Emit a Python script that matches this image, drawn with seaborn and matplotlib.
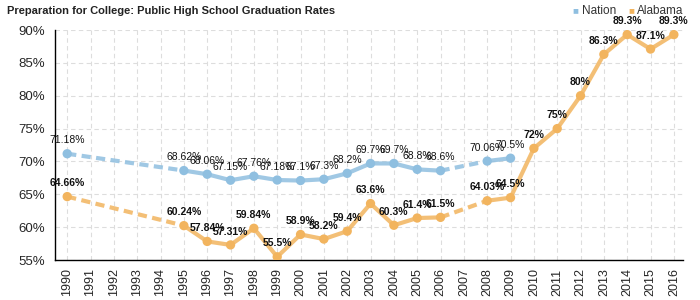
import numpy as np
import pandas as pd
import seaborn as sns
import matplotlib.pyplot as plt
from matplotlib.ticker import MultipleLocator, FuncFormatter

# data
nation_years = [1990, 1995, 1996, 1997, 1998, 1999, 2000, 2001, 2002, 2003, 2004, 2005, 2006, 2008, 2009]
nation_vals = [71.18, 68.62, 68.06, 67.15, 67.76, 67.18, 67.1, 67.3, 68.2, 69.7, 69.7, 68.8, 68.6, 70.06, 70.5]

alabama_years = [1990, 1995, 1996, 1997, 1998, 1999, 2000, 2001, 2002, 2003, 2004, 2005, 2006, 2008,
                 2009, 2010, 2011, 2012, 2013, 2014, 2015, 2016]
alabama_vals = [64.66, 60.24, 57.84, 57.31, 59.84, 55.5, 58.9, 58.2, 59.4, 63.6, 60.3, 61.4, 61.5, 64.03,
                64.5, 72, 75, 80, 86.3, 89.3, 87.1, 89.3]

year_ticks = list(range(1990, 2017))

blue = "#8fbfe0"
orange = "#f2b45e"

sns.set_style("white")
plt.rcParams['font.family'] = ['Liberation Sans', 'DejaVu Sans']

fig = plt.figure(figsize=(7, 3), dpi=100)
ax = fig.add_axes([0.079, 0.133, 0.897, 0.767])


def split_runs(years, vals):
    # solid runs for consecutive years, dashed bridges over gaps
    df = pd.DataFrame({"year": years, "val": vals})
    df["run"] = (df["year"].diff() != 1).cumsum()
    gaps = []
    for i in range(1, len(years)):
        if years[i] - years[i - 1] > 1:
            gaps.append({"year": years[i - 1], "val": vals[i - 1], "gap": i})
            gaps.append({"year": years[i], "val": vals[i], "gap": i})
    return df, pd.DataFrame(gaps)


for years, vals, color, weight in [(nation_years, nation_vals, blue, "normal"),
                                   (alabama_years, alabama_vals, orange, "bold")]:
    df, gaps = split_runs(years, vals)
    sns.lineplot(data=df, x="year", y="val", units="run", estimator=None, color=color,
                 lw=3, alpha=0.85, ax=ax, legend=False)
    if len(gaps):
        sns.lineplot(data=gaps, x="year", y="val", units="gap", estimator=None, color=color,
                     lw=3, alpha=0.85, ax=ax, legend=False, linestyle=(0, (2.2, 1.3)))
    sns.scatterplot(data=df, x="year", y="val", color=color, s=45, edgecolor="none",
                    ax=ax, legend=False, zorder=4)
    for y, v in zip(years, vals):
        ax.annotate(f"{v:g}%", (y, v), xytext=(0, 6), textcoords="offset points",
                    ha="center", va="bottom", fontsize=7.5, fontweight=weight, color="#111111")

ax.set_xlim(1989.49, 2016.4)
ax.set_ylim(55, 90)
ax.set_xticks(year_ticks)
ax.set_xticklabels([str(y) for y in year_ticks], rotation=90, fontsize=9)
ax.yaxis.set_major_locator(MultipleLocator(5))
ax.yaxis.set_minor_locator(MultipleLocator(2.5))
ax.yaxis.set_major_formatter(FuncFormatter(lambda v, p: f"{v:.0f}%"))
ax.tick_params(axis="y", which="major", labelsize=9.5, length=4, color="black", direction="out")
ax.tick_params(axis="y", which="minor", length=3, width=1, color="#e03030", direction="out")
ax.tick_params(axis="x", length=4, color="black", direction="out", pad=2)
ax.set_xlabel("")
ax.set_ylabel("")

ax.grid(True, which="major", linestyle=(0, (4, 3)), color="#dddddd", lw=0.8)
ax.set_axisbelow(True)
for s in ["top", "right"]:
    ax.spines[s].set_visible(False)
for s in ["left", "bottom"]:
    ax.spines[s].set_color("black")
    ax.spines[s].set_linewidth(1)

fig.text(0.01, 0.963, "Preparation for College: Public High School Graduation Rates",
         fontsize=8, fontweight="bold", ha="left", va="center", color="#222222")

# legend
fig.text(0.818, 0.965, "\u25a0", color=blue, fontsize=7, ha="left", va="center")
fig.text(0.831, 0.965, "Nation", color="#333333", fontsize=8.5, ha="left", va="center")
fig.text(0.897, 0.965, "\u25a0", color=orange, fontsize=7, ha="left", va="center")
fig.text(0.910, 0.965, "Alabama", color="#333333", fontsize=8.5, ha="left", va="center")

fig.savefig("out.png", dpi=100)
